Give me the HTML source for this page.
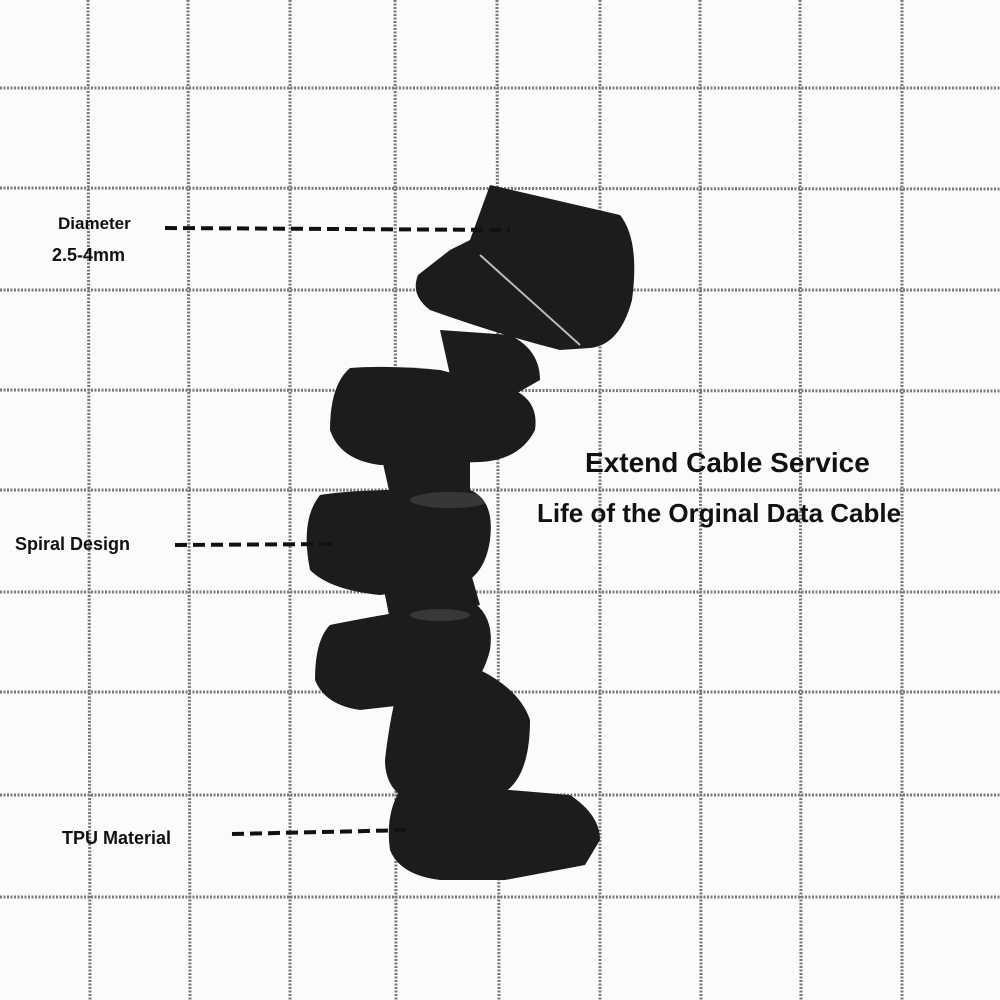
<!DOCTYPE html>
<html><head><meta charset="utf-8"><style>
html,body{margin:0;padding:0;background:#fbfbfb}
.w{position:relative;width:1000px;height:1000px;overflow:hidden;font-family:"Liberation Sans",sans-serif;font-weight:bold;color:#111}
.t{position:absolute;white-space:nowrap}
</style></head><body><div class="w">
<svg width="1000" height="1000" style="position:absolute;left:0;top:0">
<g stroke="#6a6a6a" stroke-width="3" stroke-dasharray="2 1.5" opacity="0.9">
<line x1="88" y1="0" x2="90" y2="1000"/><line x1="188" y1="0" x2="190" y2="1000"/>
<line x1="290" y1="0" x2="290" y2="1000"/><line x1="395" y1="0" x2="396" y2="1000"/>
<line x1="497" y1="0" x2="499" y2="1000"/><line x1="600" y1="0" x2="600" y2="1000"/>
<line x1="700" y1="0" x2="701" y2="1000"/><line x1="800" y1="0" x2="801" y2="1000"/>
<line x1="902" y1="0" x2="902" y2="1000"/>
<line x1="0" y1="88" x2="1000" y2="88"/><line x1="0" y1="188" x2="1000" y2="189"/>
<line x1="0" y1="290" x2="1000" y2="290"/><line x1="0" y1="390" x2="1000" y2="391"/>
<line x1="0" y1="490" x2="1000" y2="490"/><line x1="0" y1="592" x2="1000" y2="592"/>
<line x1="0" y1="692" x2="1000" y2="692"/><line x1="0" y1="795" x2="1000" y2="795"/>
<line x1="0" y1="897" x2="1000" y2="897"/>
</g>
<g fill="#1c1c1e">
<path d="M490 185 L620 215 Q640 240 632 300 Q620 345 590 348 L560 350 Q500 335 430 310 Q410 295 418 275 L450 250 L470 240 Z"/>
<path d="M440 330 L510 335 Q540 350 540 380 L505 400 L450 375 Z"/>
<path d="M350 368 Q390 365 440 370 L500 385 Q540 395 535 430 Q520 460 480 462 L380 465 Q340 460 330 430 Q330 385 350 368 Z"/>
<path d="M380 450 L470 455 L470 490 L390 495 Z"/>
<path d="M320 495 Q360 488 470 490 Q495 500 490 540 Q485 575 460 585 L380 595 Q330 590 310 570 Q300 520 320 495 Z"/>
<path d="M380 570 L470 570 L480 605 L390 620 Z"/>
<path d="M330 625 Q380 615 470 600 Q495 615 490 650 Q480 690 450 700 L360 710 Q325 705 315 680 Q315 640 330 625 Z"/>
<path d="M400 680 L480 670 Q520 690 530 720 Q530 780 500 795 L420 805 Q385 795 385 760 Q390 715 400 680 Z"/>
<path d="M400 790 L510 790 L570 795 Q600 815 600 840 L585 865 L505 880 L440 880 Q400 875 390 850 Q385 815 400 790 Z"/>
</g>
<g fill="#fff" opacity="0.12">
<ellipse cx="450" cy="500" rx="40" ry="8"/><ellipse cx="440" cy="615" rx="30" ry="6"/>
</g>
<line x1="480" y1="255" x2="580" y2="345" stroke="#bbb" stroke-width="2"/>
<g stroke="#111" stroke-width="4" stroke-dasharray="12 6">
<line x1="165" y1="228" x2="510" y2="230"/>
<line x1="175" y1="545" x2="335" y2="544"/>
<line x1="232" y1="834" x2="412" y2="830"/>
</g>
</svg>
<div class="t" style="left:58px;top:214px;font-size:17px">Diameter</div>
<div class="t" style="left:52px;top:245px;font-size:18px">2.5-4mm</div>
<div class="t" style="left:15px;top:534px;font-size:18px">Spiral Design</div>
<div class="t" style="left:62px;top:828px;font-size:18px">TPU Material</div>
<div class="t" style="left:585px;top:447px;font-size:28px">Extend Cable Service</div>
<div class="t" style="left:537px;top:498px;font-size:26px">Life of the Orginal Data Cable</div>
</div></body></html>
